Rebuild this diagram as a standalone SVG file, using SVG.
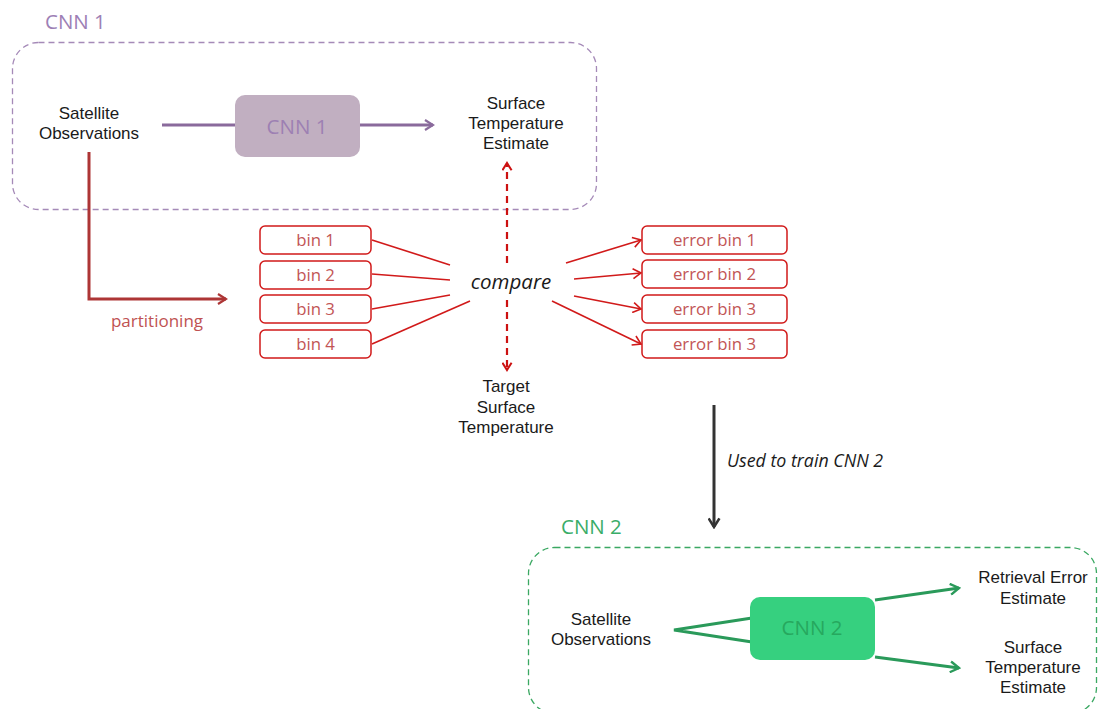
<svg xmlns="http://www.w3.org/2000/svg" width="1099" height="709" viewBox="0 0 1099 709">
<defs>
<style>
text{font-family:"Open Sans","Noto Sans","Liberation Sans",sans-serif;}
.lbl{font-family:"Liberation Sans",Arial,sans-serif;font-size:17px;fill:#1a1a1a;text-anchor:middle;}
.bin rect{fill:#fff;stroke:#d11a1a;stroke-width:1.5;}
.bin text{font-size:16.8px;fill:#c25555;text-anchor:middle;}
.red{stroke:#d11a1a;stroke-width:1.6;fill:none;}
</style>
<marker id="aPur" viewBox="0 0 12 12" refX="10" refY="6" markerWidth="12" markerHeight="12" markerUnits="userSpaceOnUse" orient="auto"><path d="M2,1 L10,6 L2,11" fill="none" stroke="#8a6a9c" stroke-width="2.2"/></marker>
<marker id="aDR" viewBox="0 0 12 12" refX="10" refY="6" markerWidth="12" markerHeight="12" markerUnits="userSpaceOnUse" orient="auto"><path d="M2,1 L10,6 L2,11" fill="none" stroke="#ad3535" stroke-width="2.2"/></marker>
<marker id="aRed" viewBox="0 0 12 12" refX="10" refY="6" markerWidth="12" markerHeight="12" markerUnits="userSpaceOnUse" orient="auto"><path d="M2,1 L10,6 L2,11" fill="none" stroke="#d11a1a" stroke-width="1.6"/></marker>
<marker id="aRedD" viewBox="0 0 12 12" refX="10" refY="6" markerWidth="11" markerHeight="11" markerUnits="userSpaceOnUse" orient="auto"><path d="M2,1 L10,6 L2,11" fill="none" stroke="#cc1111" stroke-width="2.2"/></marker>
<marker id="aBlk" viewBox="0 0 12 12" refX="10" refY="6" markerWidth="13" markerHeight="13" markerUnits="userSpaceOnUse" orient="auto"><path d="M2,1 L10,6 L2,11" fill="none" stroke="#333" stroke-width="2.4"/></marker>
<marker id="aGrn" viewBox="0 0 12 12" refX="10" refY="6" markerWidth="13" markerHeight="13" markerUnits="userSpaceOnUse" orient="auto"><path d="M2,1 L10,6 L2,11" fill="none" stroke="#2a9a5a" stroke-width="2.2"/></marker>
</defs>
<rect width="1099" height="709" fill="#fff"/>

<g id="cnn1-container">
<rect x="12.5" y="42.5" width="584" height="167" rx="26" fill="none" stroke="#a58ab8" stroke-width="1.3" stroke-dasharray="6,4"/>
<text x="45" y="29" style="font-size:20.5px;fill:#9d80b5">CNN 1</text>
</g>
<g id="cnn2-container">
<rect x="528.5" y="547.5" width="568" height="166" rx="26" fill="none" stroke="#3aa862" stroke-width="1.3" stroke-dasharray="6,4"/>
<text x="561" y="534" style="font-size:20.5px;fill:#3aad68">CNN 2</text>
</g>

<g id="connectors">
<line x1="162" y1="125" x2="433" y2="125" stroke="#8a6a9c" stroke-width="3" marker-end="url(#aPur)"/>
<polyline points="89,152 89,299 226,299" fill="none" stroke="#ad3535" stroke-width="3" marker-end="url(#aDR)"/>
<text x="157" y="327" style="font-size:17px;fill:#c05252;text-anchor:middle">partitioning</text>
<line class="red" x1="372" y1="240" x2="450" y2="265"/>
<line class="red" x1="372" y1="274" x2="450" y2="280"/>
<line class="red" x1="372" y1="309" x2="450" y2="295"/>
<line class="red" x1="372" y1="344" x2="470" y2="301"/>
<line class="red" x1="566" y1="263" x2="641" y2="240" marker-end="url(#aRed)"/>
<line class="red" x1="574" y1="279" x2="641" y2="273" marker-end="url(#aRed)"/>
<line class="red" x1="574" y1="296" x2="641" y2="309" marker-end="url(#aRed)"/>
<line class="red" x1="552" y1="301" x2="641" y2="344" marker-end="url(#aRed)"/>
<line x1="507" y1="263" x2="507" y2="163" stroke="#cc1111" stroke-width="2.2" stroke-dasharray="7,5" marker-end="url(#aRedD)"/>
<line x1="507" y1="300" x2="507" y2="370" stroke="#cc1111" stroke-width="2.2" stroke-dasharray="7,5" marker-end="url(#aRedD)"/>
<line x1="714" y1="405" x2="714" y2="527" stroke="#333" stroke-width="3" marker-end="url(#aBlk)"/>
<text x="727" y="467" style="font-size:17.8px;font-style:italic;fill:#1a1a1a">Used to train CNN 2</text>
<polyline points="752,618 674,630 752,642" fill="none" stroke="#2a9a5a" stroke-width="3"/>
<line x1="875" y1="600" x2="959" y2="588" stroke="#2a9a5a" stroke-width="3" marker-end="url(#aGrn)"/>
<line x1="875" y1="657" x2="959" y2="668" stroke="#2a9a5a" stroke-width="3" marker-end="url(#aGrn)"/>
</g>

<g id="sat-obs-1"><text class="lbl" x="89" y="119">Satellite<tspan x="89" dy="20">Observations</tspan></text></g>
<g id="cnn1"><rect x="235" y="95" width="125" height="62" rx="10" fill="#c1afc1"/><text x="297" y="134" style="font-size:20.5px;fill:#9d80b3;text-anchor:middle">CNN 1</text></g>
<g id="surf-est-1"><text class="lbl" x="516" y="109">Surface<tspan x="516" dy="20">Temperature</tspan><tspan x="516" dy="20">Estimate</tspan></text></g>

<g id="bin1" class="bin"><rect x="260" y="226" width="111" height="28" rx="5"/><text x="315.5" y="246">bin 1</text></g>
<g id="bin2" class="bin"><rect x="260" y="261" width="111" height="28" rx="5"/><text x="315.5" y="281">bin 2</text></g>
<g id="bin3" class="bin"><rect x="260" y="295" width="111" height="28" rx="5"/><text x="315.5" y="315">bin 3</text></g>
<g id="bin4" class="bin"><rect x="260" y="330" width="111" height="28" rx="5"/><text x="315.5" y="350">bin 4</text></g>

<g id="compare"><text x="511" y="289" style="font-size:20.5px;font-style:italic;fill:#1a1a1a;text-anchor:middle">compare</text></g>

<g id="err1" class="bin"><rect x="642" y="226" width="145" height="28" rx="5"/><text x="714.5" y="246">error bin 1</text></g>
<g id="err2" class="bin"><rect x="642" y="260" width="145" height="28" rx="5"/><text x="714.5" y="280">error bin 2</text></g>
<g id="err3" class="bin"><rect x="642" y="295" width="145" height="28" rx="5"/><text x="714.5" y="315">error bin 3</text></g>
<g id="err4" class="bin"><rect x="642" y="330" width="145" height="28" rx="5"/><text x="714.5" y="350">error bin 3</text></g>

<g id="target"><text class="lbl" x="506" y="392">Target<tspan x="506" dy="21">Surface</tspan><tspan x="506" dy="20">Temperature</tspan></text></g>

<g id="sat-obs-2"><text class="lbl" x="601" y="625">Satellite<tspan x="601" dy="20">Observations</tspan></text></g>
<g id="cnn2"><rect x="750" y="597" width="125" height="63" rx="10" fill="#36d07f"/><text x="812" y="635" style="font-size:20.5px;fill:#26a85e;text-anchor:middle">CNN 2</text></g>
<g id="ret-err"><text class="lbl" x="1033" y="583">Retrieval Error<tspan x="1033" dy="21">Estimate</tspan></text></g>
<g id="surf-est-2"><text class="lbl" x="1033" y="653">Surface<tspan x="1033" dy="20">Temperature</tspan><tspan x="1033" dy="20">Estimate</tspan></text></g>
</svg>
